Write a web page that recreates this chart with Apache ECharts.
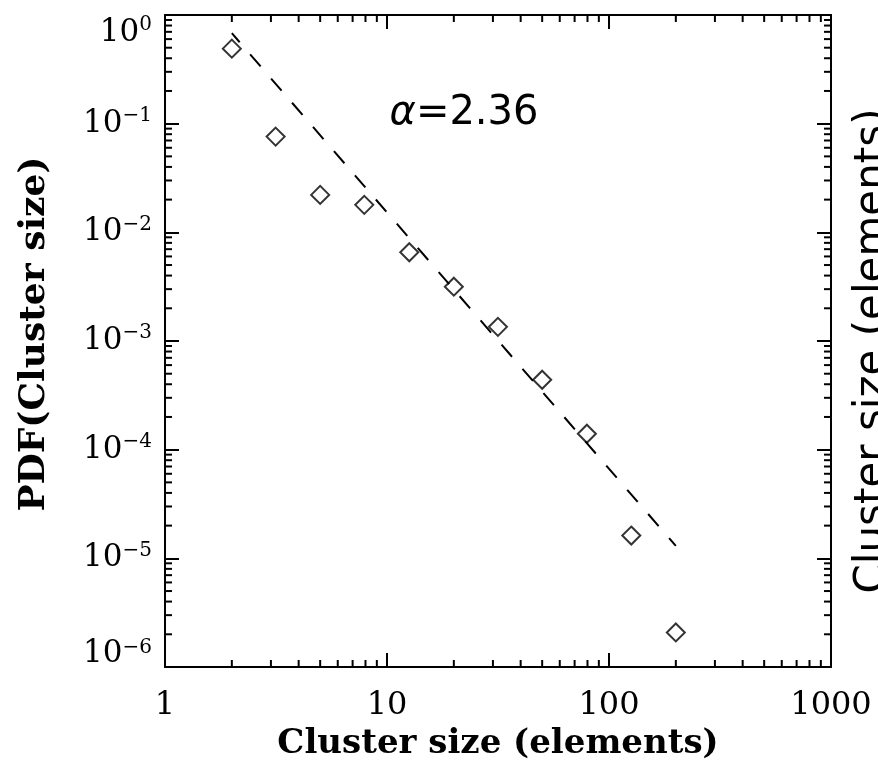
<!DOCTYPE html>
<html><head><meta charset="utf-8">
<script src="https://cdn.jsdelivr.net/npm/echarts@6/dist/echarts.min.js"></script>
<style>html,body{margin:0;padding:0;background:#fff}#c{width:878px;height:768px}</style>
</head><body><div id="c"></div>
<script>
// ---- data ----
const clusterSize = [2.0, 3.15, 5.0, 7.9, 12.6, 20.0, 31.6, 50.0, 79.5, 126, 200];
const pdfValues   = [0.49, 0.076, 0.0221, 0.0179, 0.00656, 0.00316, 0.00135, 0.00044, 0.00014, 1.62e-5, 2.08e-6];
const fitX = [2, 200];
const fitY = [0.68, 1.3e-5];
const xTickLabels = ['1', '10', '100', '1000'];
const yDecadeExps = [-6, -5, -4, -3, -2, -1, 0];
const xDecadeExps = [0, 1, 2, 3];
const minorMultipliers = [2, 3, 4, 5, 6, 7, 8, 9];
const alphaLabel = '2.36';
const xTitle = 'Cluster size (elements)';
const yTitle = 'PDF(Cluster size)';
const sideTitle = 'Cluster size (elements)';

// ---- derived tick values ----
const yMinorVals = [];
yDecadeExps.slice(0, -1).forEach(e => minorMultipliers.forEach(m => yMinorVals.push(m * Math.pow(10, e))));
const xMinorVals = [];
xDecadeExps.slice(0, -1).forEach(e => minorMultipliers.forEach(m => xMinorVals.push(m * Math.pow(10, e))));
const yMinV = Math.pow(10, yDecadeExps[0]), yMaxV = Math.pow(10, yDecadeExps[yDecadeExps.length - 1]);
const xMinV = Math.pow(10, xDecadeExps[0]), xMaxV = Math.pow(10, xDecadeExps[xDecadeExps.length - 1]);

const SERIF = '"DejaVu Serif", serif';
const SANS = '"DejaVu Sans", sans-serif';
const MINOR = 7;

const chart = echarts.init(document.getElementById('c'), null, {renderer: 'canvas'});

const B = {fontSize: 31, fontFamily: SERIF, color: '#000'};
const S = {fontSize: 20, fontFamily: SERIF, color: '#000'};
const rich = {
  // normal labels: centred on tick
  bn: Object.assign({}, B, {lineHeight: 36}),
  sn: Object.assign({}, S, {lineHeight: 16, verticalAlign: 'top'}),
  // lowest label: lifted above its tick
  pl: {fontSize: 1, lineHeight: 58},
  bl: Object.assign({}, B, {lineHeight: 36, verticalAlign: 'top'}),
  sl: Object.assign({}, S, {lineHeight: 16, verticalAlign: 'top'})
};

const axisCommon = {
  type: 'log', logBase: 10,
  axisLine: {show: true, lineStyle: {color: '#000', width: 2}},
  axisTick: {show: true, inside: true, length: 14, lineStyle: {color: '#000', width: 2}},
  splitLine: {show: false},
  minorTick: {show: false}
};

const option = {
  backgroundColor: '#fff',
  animation: false,
  grid: {left: 165, top: 15, right: 47, bottom: 101, containLabel: false, outerBoundsMode: 'none'},
  xAxis: [
    Object.assign({}, axisCommon, {
      min: xMinV, max: xMaxV, splitNumber: 3, position: 'bottom',
      name: xTitle, nameLocation: 'middle', nameGap: 40,
      nameTextStyle: {fontFamily: SERIF, fontWeight: 'bold', fontSize: 34, color: '#000'},
      axisLabel: {
        margin: 23, fontFamily: SERIF, fontSize: 32, color: '#000',
        formatter: function (v) { const e = Math.round(Math.log10(v)); return xTickLabels[e - xDecadeExps[0]]; }
      }
    }),
    Object.assign({}, axisCommon, {
      min: xMinV, max: xMaxV, splitNumber: 3, position: 'top', axisLabel: {show: false}
    })
  ],
  yAxis: [
    Object.assign({}, axisCommon, {
      min: yMinV, max: yMaxV, splitNumber: 6, position: 'left',
      name: yTitle, nameLocation: 'middle', nameRotate: 90, nameGap: 112,
      nameTextStyle: {fontFamily: SERIF, fontWeight: 'bold', fontSize: 36, color: '#000', padding: [0, 0, 0, 14]},
      axisLabel: {
        margin: 13,
        verticalAlignMaxLabel: 'top',
        formatter: function (v) {
          const e = Math.round(Math.log10(v));
          const sup = (e < 0 ? '\u2212' : '') + Math.abs(e);
          if (e === yDecadeExps[0]) return '{pl| }{bl|10}{sl|' + sup + '}';
          return '{bn|10}{sn|' + sup + '}';
        },
        rich: rich
      }
    }),
    Object.assign({}, axisCommon, {
      min: yMinV, max: yMaxV, splitNumber: 6, position: 'right', axisLabel: {show: false}
    })
  ],
  graphic: [
    {
      type: 'text', x: 464, y: 114, silent: true,
      style: {
        text: '{a|\u03b1}{t|=' + alphaLabel + '}',
        rich: {
          a: {font: 'italic 40px ' + SANS, fill: '#000'},
          t: {font: '40px ' + SANS, fill: '#000'}
        },
        align: 'center', verticalAlign: 'middle', textAlign: 'center', textVerticalAlign: 'middle'
      }
    },
    {
      type: 'text', x: 852, y: 351, rotation: Math.PI / 2, silent: true,
      style: {
        text: sideTitle, font: '42px ' + SANS, fill: '#000',
        align: 'center', verticalAlign: 'top', textAlign: 'center', textVerticalAlign: 'top'
      }
    }
  ],
  series: [
    {
      name: 'fit', type: 'line', xAxisIndex: 0, yAxisIndex: 0,
      data: fitX.map((x, i) => [x, fitY[i]]),
      symbol: 'none', silent: true,
      lineStyle: {color: '#000', width: 2, type: [16, 16], dashOffset: 4}
    },
    {
      name: 'pdf', type: 'scatter', xAxisIndex: 0, yAxisIndex: 0,
      data: clusterSize.map((x, i) => [x, pdfValues[i]]),
      symbol: 'diamond', symbolSize: 18,
      itemStyle: {color: 'rgba(0,0,0,0)', borderColor: '#000', borderWidth: 2}
    },
    {
      name: 'yMinor', type: 'custom', xAxisIndex: 0, yAxisIndex: 0, clip: false, silent: true, z: 5,
      data: yMinorVals.map(v => [xMinV, v]),
      renderItem: function (params, api) {
        const cs = params.coordSys;
        const y = api.coord([api.value(0), api.value(1)])[1];
        const st = {stroke: '#000', lineWidth: 2};
        return {type: 'group', children: [
          {type: 'line', shape: {x1: cs.x, y1: y, x2: cs.x + MINOR, y2: y}, style: st},
          {type: 'line', shape: {x1: cs.x + cs.width, y1: y, x2: cs.x + cs.width - MINOR, y2: y}, style: st}
        ]};
      }
    },
    {
      name: 'xMinor', type: 'custom', xAxisIndex: 0, yAxisIndex: 0, clip: false, silent: true, z: 5,
      data: xMinorVals.map(v => [v, yMinV]),
      renderItem: function (params, api) {
        const cs = params.coordSys;
        const x = api.coord([api.value(0), api.value(1)])[0];
        const st = {stroke: '#000', lineWidth: 2};
        return {type: 'group', children: [
          {type: 'line', shape: {x1: x, y1: cs.y + cs.height, x2: x, y2: cs.y + cs.height - MINOR}, style: st},
          {type: 'line', shape: {x1: x, y1: cs.y, x2: x, y2: cs.y + MINOR}, style: st}
        ]};
      }
    }
  ]
};
chart.setOption(option);
</script>
</body></html>
